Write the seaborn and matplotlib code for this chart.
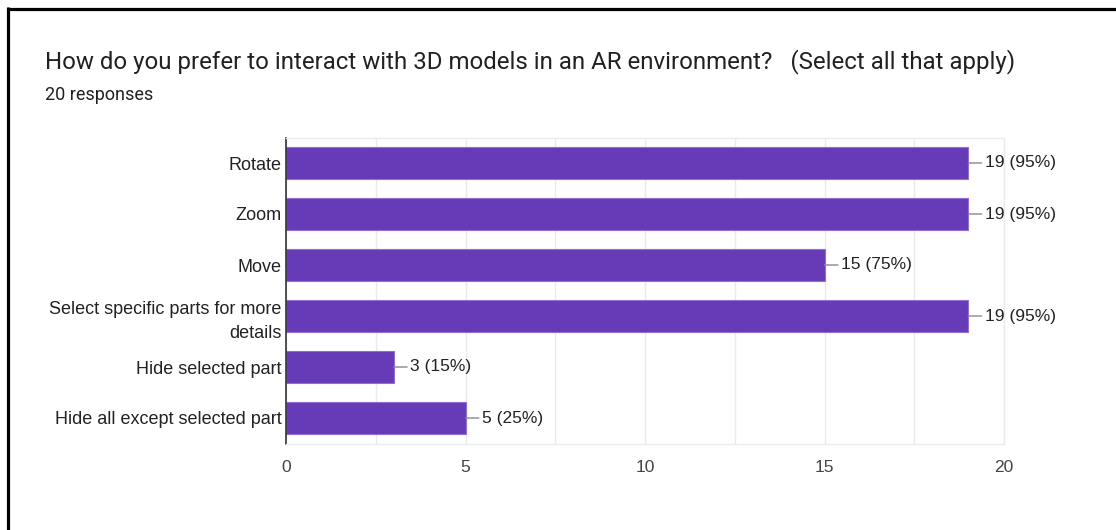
import matplotlib
matplotlib.use("Agg")
import matplotlib.pyplot as plt
from matplotlib.lines import Line2D
from matplotlib.ticker import MultipleLocator
import seaborn as sns
import pandas as pd

# Survey results
options = [
    "Rotate",
    "Zoom",
    "Move",
    "Select specific parts for more\ndetails",
    "Hide selected part",
    "Hide all except selected part",
]
counts = [19, 19, 15, 19, 3, 5]
total_responses = 20
x_ticks = [0, 5, 10, 15, 20]

title = "How do you prefer to interact with 3D models in an AR environment?   (Select all that apply)"
subtitle = f"{total_responses} responses"

df = pd.DataFrame({"option": options, "count": counts})

sns.set_theme(style="white")
plt.rcParams["font.family"] = ["Liberation Sans", "DejaVu Sans"]
label_font = ["Liberation Sans", "DejaVu Sans"]
head_font = ["Roboto", "DejaVu Sans"]

W, H = 1116, 530
fig = plt.figure(figsize=(W / 100, H / 100), dpi=100)
fig.patch.set_facecolor("white")

left, right, top, bottom = 286, 1004, 137.5, 443.5
ax = fig.add_axes([left / W, 1 - bottom / H, (right - left) / W, (bottom - top) / H])

purple = "#673AB7"
sns.barplot(data=df, x="count", y="option", orient="h", color=purple,
            saturation=1, width=0.62, edgecolor="#8f6fd2", linewidth=0.8, ax=ax)

ax.set_xlim(0, 20)
ax.set_xticks(x_ticks)
ax.xaxis.set_minor_locator(MultipleLocator(2.5))
ax.grid(True, axis="x", which="both", color="#ebebeb", linewidth=1)
ax.set_axisbelow(True)
ax.set_xlabel("")
ax.set_ylabel("")
ax.tick_params(axis="x", length=0, which="both", pad=12, labelsize=12.5, labelcolor="#444444")
ax.tick_params(axis="y", length=0, pad=3, labelsize=13, labelcolor="#222222")
for lbl in ax.get_xticklabels():
    lbl.set_fontfamily(label_font)
for lbl in ax.get_yticklabels():
    lbl.set_fontfamily(label_font)
    lbl.set_horizontalalignment("right")
    lbl.set_multialignment("right")
    lbl.set_linespacing(1.55)

for side in ("top", "bottom", "right"):
    ax.spines[side].set_color("#ebebeb")
    ax.spines[side].set_linewidth(1)
ax.spines["left"].set_color("#333333")
ax.spines["left"].set_linewidth(1.2)

# Value labels joined to the bar ends by short leader lines
for i, c in enumerate(counts):
    pct = round(100 * c / total_responses)
    ax.annotate(f"{c} ({pct}%)", xy=(c, i), xytext=(12, 0), textcoords="offset points",
                ha="left", va="center", fontsize=12.5, color="#222222", family=label_font,
                arrowprops=dict(arrowstyle="-", color="#888888", lw=1, shrinkA=0, shrinkB=0))

fig.text(45 / W, 1 - 62 / H, title, fontsize=17.3, family=head_font,
         color="#202124", ha="left", va="center")
fig.text(45 / W, 1 - 95 / H, subtitle, fontsize=13, family=head_font,
         color="#202124", ha="left", va="center")

# Frame edges along the top and left
fig.add_artist(Line2D([7 / W, 1], [1 - 8.5 / H, 1 - 8.5 / H], color="black", lw=2.3,
                      transform=fig.transFigure, solid_capstyle="butt"))
fig.add_artist(Line2D([8 / W, 8 / W], [0, 1 - 7 / H], color="black", lw=2.3,
                      transform=fig.transFigure, solid_capstyle="butt"))

fig.savefig("out.png", dpi=100, facecolor="white")
